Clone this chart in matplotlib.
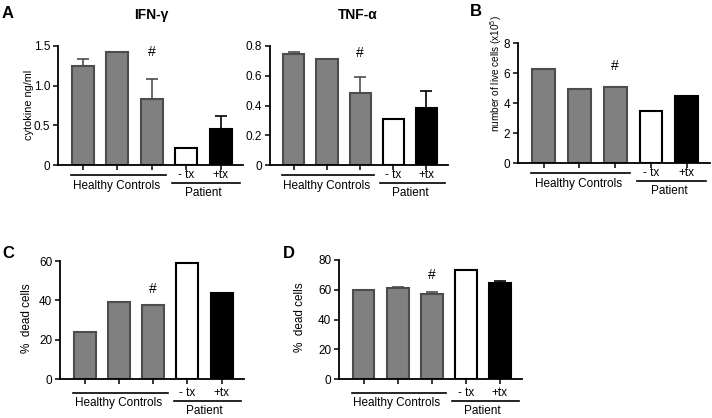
import matplotlib
matplotlib.use("Agg")
import matplotlib.pyplot as plt
import matplotlib.transforms as mtransforms
import numpy as np

plt.rcParams['font.family'] = ['Liberation Sans', 'DejaVu Sans']
plt.rcParams['mathtext.fontset'] = 'custom'
plt.rcParams['mathtext.rm'] = 'Liberation Sans'
plt.rcParams['mathtext.default'] = 'regular'

## ------------------------------- ##
## data
groups = ["HC1", "HC2", "HC3", "- tx", "+tx"]

ifn = [1.25, 1.42, 0.83, 0.21, 0.45]
ifn_err = [0.08, 0, 0.26, 0, 0.17]

tnf = [0.745, 0.712, 0.484, 0.307, 0.382]
tnf_err = [0.016, 0, 0.11, 0, 0.118]

live = [6.24, 4.95, 5.1, 3.5, 4.48]

dead_c = [24.0, 39.3, 37.7, 59.0, 43.7]

dead_d = [59.6, 61.2, 57.0, 73.1, 64.8]
dead_d_err = [0, 0.8, 1.3, 0, 1.0]

fill_colors = ["#808080", "#808080", "#808080", "white", "black"]
edge_colors = ["#4d4d4d", "#4d4d4d", "#4d4d4d", "black", "black"]
## ------------------------------- ##

W, H = 712, 418
fig = plt.figure(figsize=(W / 100, H / 100), dpi=100)


def add_axes_px(x0, x1, y0, y1):
    return fig.add_axes([x0 / W, 1 - y1 / H, (x1 - x0) / W, (y1 - y0) / H])


def fig_text(x, y, s, **kw):
    fig.text(x / W, 1 - y / H, s, **kw)


def draw_panel(ax, vals, errs, ymax, yticks, ylabels, hash_y, offs, hpx):
    x = np.arange(len(vals))
    ax.bar(x, vals, width=0.64, color=fill_colors, edgecolor=edge_colors,
           linewidth=1.5, zorder=2)
    if errs is not None:
        for i in range(len(vals)):
            if errs[i] > 0:
                ax.errorbar(x[i], vals[i], yerr=[[0], [errs[i]]], fmt='none',
                            ecolor=edge_colors[i], elinewidth=1.2, capsize=4,
                            capthick=1.2, zorder=1)
    ax.set_xlim(-0.72, 4.65)
    ax.set_ylim(0, ymax)
    ax.set_yticks(yticks)
    ax.set_yticklabels(ylabels, fontsize=8.5)
    ax.set_xticks(x)
    ax.set_xticklabels([])
    ax.tick_params(direction='out', length=3.5, width=1.1, pad=2)
    for s in ['top', 'right']:
        ax.spines[s].set_visible(False)
    for s in ['left', 'bottom']:
        ax.spines[s].set_linewidth(1.3)
    ax.text(2, hash_y, "#", ha='center', va='center', fontsize=10)

    tr = mtransforms.blended_transform_factory(ax.transData, ax.transAxes)
    tx_off, hc_txt, pt_line, pt_txt = offs
    hc_line = tx_off
    ax.plot([-0.35, 2.42], [-hc_line / hpx] * 2, color='black', lw=1.2,
            transform=tr, clip_on=False)
    ax.text(0.98, -hc_txt / hpx, "Healthy Controls", transform=tr,
            ha='center', va='center', fontsize=8.5)
    ax.text(3, -tx_off / hpx, groups[3], transform=tr, ha='center',
            va='center', fontsize=8.5)
    ax.text(4, -tx_off / hpx, groups[4], transform=tr, ha='center',
            va='center', fontsize=8.5)
    ax.plot([2.6, 4.55], [-pt_line / hpx] * 2, color='black', lw=1.2,
            transform=tr, clip_on=False)
    ax.text(3.5, -pt_txt / hpx, "Patient", transform=tr, ha='center',
            va='center', fontsize=8.5)


top_offs = (9.5, 20.5, 17.5, 27.5)
bot_offs = (13.5, 24, 22, 31.5)

# A - IFN-gamma
ax1 = add_axes_px(58, 243, 46, 165)
draw_panel(ax1, ifn, ifn_err, 1.5, [0, 0.5, 1.0, 1.5],
           ["0", "0.5", "1.0", "1.5"], 1.43, top_offs, 119)

# A - TNF-alpha
ax2 = add_axes_px(270, 448, 46, 165)
draw_panel(ax2, tnf, tnf_err, 0.8, [0, 0.2, 0.4, 0.6, 0.8],
           ["0", "0.2", "0.4", "0.6", "0.8"], 0.75, top_offs, 119)

# B - live cells
ax3 = add_axes_px(518, 710, 43, 163)
draw_panel(ax3, live, None, 8, [0, 2, 4, 6, 8],
           ["0", "2", "4", "6", "8"], 6.44, top_offs, 120)

# C - dead cells
ax4 = add_axes_px(60, 244, 261, 379)
draw_panel(ax4, dead_c, None, 60, [0, 20, 40, 60],
           ["0", "20", "40", "60"], 46, bot_offs, 118)

# D - dead cells
ax5 = add_axes_px(339, 522, 260, 379)
draw_panel(ax5, dead_d, dead_d_err, 80, [0, 20, 40, 60, 80],
           ["0", "20", "40", "60", "80"], 70, bot_offs, 119)

# titles, panel letters, y labels
fig_text(151, 15, "IFN-γ", ha='center', va='center', fontsize=10, fontweight='bold')
fig_text(358, 15, "TNF-α", ha='center', va='center', fontsize=10, fontweight='bold')
fig_text(2, 13, "A", ha='left', va='center', fontsize=12, fontweight='bold')
fig_text(470, 11, "B", ha='left', va='center', fontsize=12, fontweight='bold')
fig_text(2, 253, "C", ha='left', va='center', fontsize=12, fontweight='bold')
fig_text(283, 253, "D", ha='left', va='center', fontsize=12, fontweight='bold')

fig_text(29, 105, "cytokine ng/ml", rotation=90, ha='center', va='center', fontsize=7.8)
fig_text(496, 74, "number of live cells (x10$^5$)", rotation=90, ha='center',
         va='center', fontsize=7.2)
fig_text(27, 318, "%  dead cells", rotation=90, ha='center', va='center', fontsize=8.5)
fig_text(300, 317, "%  dead cells", rotation=90, ha='center', va='center', fontsize=8.5)

plt.savefig("out.png", dpi=100)
